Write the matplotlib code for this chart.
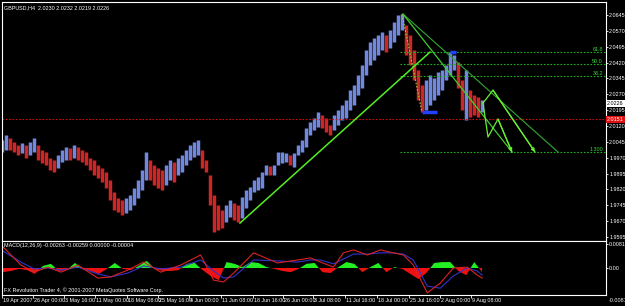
import matplotlib.pyplot as plt
import numpy as np

plt.rcParams["font.family"] = ["Liberation Sans Narrow", "Liberation Sans", "DejaVu Sans"]

# ── price data: one column per 4 H4 bars (chart scale is 1 px per bar) ──── #
highs = [
    2.0054, 2.0077, 2.0063, 2.0044, 2.0030, 2.0040, 2.0030, 2.0044, 2.0063, 2.0030,
    2.0006, 1.9997, 1.9969, 1.9959, 1.9983, 2.0006, 2.0021, 2.0016, 2.0030, 2.0021,
    2.0006, 1.9997, 1.9969, 1.9959, 1.9935, 1.9921, 1.9902, 1.9864, 1.9808, 1.9779,
    1.9770, 1.9779, 1.9794, 1.9827, 1.9864, 1.9912, 1.9997, 1.9959, 1.9935, 1.9921,
    1.9912, 1.9935, 1.9959, 1.9950, 1.9969, 1.9983, 2.0006, 2.0030, 2.0044, 2.0054,
    2.0006, 1.9959, 1.9888, 1.9794, 1.9746, 1.9723, 1.9746, 1.9770, 1.9756, 1.9746,
    1.9784, 1.9817, 1.9831, 1.9864, 1.9879, 1.9902, 1.9935, 1.9931, 1.9935, 1.9997,
    1.9997, 1.9992, 1.9983, 1.9992, 2.0030, 2.0054, 2.0110, 2.0139, 2.0158, 2.0186,
    2.0172, 2.0158, 2.0125, 2.0172, 2.0196, 2.0219, 2.0243, 2.0290, 2.0314, 2.0361,
    2.0408, 2.0479, 2.0517, 2.0536, 2.0550, 2.0565, 2.0550, 2.0574, 2.0612, 2.0645,
    2.0650, 2.0598, 2.0550, 2.0479, 2.0385, 2.0314, 2.0337, 2.0361, 2.0347, 2.0375,
    2.0385, 2.0408, 2.0470, 2.0456, 2.0423, 2.0337, 2.0385, 2.0290, 2.0267, 2.0257,
    2.0243,
]
lows = [
    1.9997, 2.0006, 2.0006, 1.9997, 1.9983, 1.9992, 1.9969, 1.9983, 1.9997, 1.9959,
    1.9945, 1.9935, 1.9912, 1.9902, 1.9921, 1.9950, 1.9959, 1.9959, 1.9969, 1.9959,
    1.9950, 1.9935, 1.9912, 1.9888, 1.9874, 1.9855, 1.9827, 1.9770, 1.9723, 1.9713,
    1.9699, 1.9708, 1.9723, 1.9746, 1.9779, 1.9817, 1.9864, 1.9864, 1.9841, 1.9827,
    1.9817, 1.9841, 1.9864, 1.9855, 1.9888, 1.9902, 1.9935, 1.9959, 1.9973, 1.9983,
    1.9921, 1.9902, 1.9746, 1.9619, 1.9628, 1.9638, 1.9666, 1.9689, 1.9675, 1.9666,
    1.9685, 1.9732, 1.9770, 1.9808, 1.9817, 1.9827, 1.9888, 1.9888, 1.9888, 1.9935,
    1.9945, 1.9950, 1.9935, 1.9926, 1.9983, 1.9997, 2.0021, 2.0077, 2.0101, 2.0115,
    2.0110, 2.0092, 2.0077, 2.0101, 2.0125, 2.0148, 2.0158, 2.0196, 2.0219, 2.0267,
    2.0300, 2.0361, 2.0408, 2.0432, 2.0456, 2.0479, 2.0470, 2.0489, 2.0517, 2.0550,
    2.0574, 2.0456, 2.0408, 2.0337, 2.0243, 2.0186, 2.0196, 2.0219, 2.0243, 2.0267,
    2.0290, 2.0337, 2.0361, 2.0385, 2.0300, 2.0196, 2.0148, 2.0163, 2.0172, 2.0163,
    2.0186,
]

# MACD histogram, one value per 8 bars
macd_hist = [
    -0.0014, -0.0010, -0.0003, -0.0007, -0.0020, 0.0007, 0.0014, -0.0010, -0.0007, 0.0017,
    -0.0003, -0.0010, -0.0020, -0.0003, 0.0017, -0.0003, -0.0007, 0.0007, 0.0024, -0.0003,
    -0.0010, -0.0010, -0.0007, 0.0014, 0.0017, -0.0007, -0.0027, -0.0041, 0.0020, 0.0014,
    0.0003, 0.0020, 0.0017, 0.0003, -0.0003, -0.0010, -0.0014, -0.0003, 0.0014, 0.0017,
    -0.0014, -0.0017, 0.0003, 0.0020, 0.0014, -0.0014, 0.0003, 0.0017, -0.0014, 0.0003,
    -0.0003, -0.0020, -0.0037, -0.0017, 0.0017, 0.0020, 0.0020, -0.0010, -0.0024, 0.0020,
    -0.0014,
]
# MACD lines, sampled at the bars below
line_bars = [0, 20, 33, 47, 60, 77, 97, 110, 127, 143, 160, 180, 200, 213, 223, 233, 253, 277,
             297, 310, 320, 333, 343, 353, 367, 380, 393, 403, 413, 427, 440, 453, 467, 477, 482]
macd_red = [0.0078, 0.0010, -0.0014, 0.0003, -0.0014, 0.0010, -0.0034, -0.0030, -0.0007, 0.0020,
            -0.0014, 0.0010, 0.0044, -0.0041, -0.0047, -0.0017, 0.0051, 0.0017, 0.0027, 0.0034,
            0.0020, 0.0003, 0.0051, 0.0061, 0.0044, 0.0061, 0.0051, 0.0044, 0.0010, -0.0084,
            -0.0051, 0.0000, 0.0003, -0.0024, -0.0034]
macd_blue = [0.0061, 0.0020, -0.0003, 0.0000, -0.0007, 0.0003, -0.0020, -0.0030, -0.0017, 0.0007,
             -0.0003, 0.0003, 0.0027, -0.0010, -0.0034, -0.0030, 0.0027, 0.0024, 0.0020, 0.0027,
             0.0027, 0.0014, 0.0030, 0.0047, 0.0047, 0.0051, 0.0051, 0.0047, 0.0027, -0.0061,
             -0.0068, -0.0027, 0.0000, -0.0010, -0.0024]

# ── chart objects (bar, price) ──────────────────────────────────────────── #
uptrend = [(240, 1.9661), (430, 2.0470)]
down_outer = [(403, 2.0650), (558, 1.9997)]
down_inner = [(403, 2.0650), (512, 1.9997)]
fib_diag = [(402, 2.0650), (422, 2.0186)]
proj_a = [(483, 2.0229), (488, 2.0068), (498, 2.0153), (512, 1.9997)]
proj_b = [(483, 2.0229), (493, 2.0290), (535, 1.9997)]
fib_levels = [2.0470, 2.0413, 2.0356, 1.9997]
fib_names = ["61.8", "50.0", "38.2", "1.300"]
red_line = 2.0151
last_price = 2.0226

price_ticks = [2.0645, 2.0570, 2.0495, 2.0420, 2.0345, 2.0270, 2.0195, 2.0120,
               2.0045, 1.9970, 1.9895, 1.9820, 1.9745, 1.9670, 1.9595]
time_ticks = [1, 32, 63, 94, 126, 157, 188, 220, 252, 282, 313, 345, 377, 409, 440, 471]
time_labels = ["19 Apr 2007", "26 Apr 00:00", "3 May 16:00", "11 May 00:00", "18 May 08:00",
               "25 May 16:00", "4 Jun 00:00", "11 Jun 08:00", "18 Jun 16:00", "26 Jun 00:00",
               "3 Jul 08:00", "11 Jul 16:00", "18 Jul 00:00", "25 Jul 16:00", "2 Aug 00:00",
               "9 Aug 08:00"]

FS = 3.9
W, H = 625, 306

fig = plt.figure(figsize=(W / 100, H / 100), dpi=100, facecolor="black")
ax = fig.add_axes([2 / W, (H - 241) / H, 604 / W, 239 / H], facecolor="black")
axm = fig.add_axes([2 / W, (H - 295) / H, 604 / W, 54 / H], facecolor="black")

for a in (ax, axm):
    a.set_xlim(2, 606)
    for s in a.spines.values():
        s.set_color("white")
        s.set_linewidth(0.8)
    a.yaxis.tick_right()
    a.tick_params(colors="white", labelsize=FS, length=1.5, pad=0.8, width=0.6)
    a.set_xticks([])

# bars
x = 2 + 4 * np.arange(len(highs))
hi = np.array(highs)
lo = np.array(lows)
mid = (hi + lo) / 2
up = np.r_[True, mid[1:] >= mid[:-1]]
cols = np.where(up, "#7088dd", "#cc2626")
ax.vlines(x, lo, hi, colors=cols, lw=2.5)
ax.set_ylim(1.9576, 2.0707)
ax.set_yticks(price_ticks)
ax.set_yticklabels([f"{v:.4f}" for v in price_ticks])

# red price line across the chart
ax.axhline(red_line, color="#d01010", lw=0.8, ls=(0, (1.5, 1.5)))

# fibonacci levels
for lvl, name in zip(fib_levels, fib_names):
    ax.plot([400, 605], [lvl, lvl], color="#22b022", lw=0.8, ls=(0, (1.5, 1.5)))
    ax.text(603, lvl, name, color="#33dd33", fontsize=FS, ha="right", va="bottom")
ax.plot(*zip(*fib_diag), color="#9acd32", lw=0.8, ls=(0, (1.5, 1.5)))
ax.plot([422, 437], [2.0186, 2.0186], color="#2040ff", lw=2.5, solid_capstyle="butt")
ax.plot([450, 456], [2.0470, 2.0470], color="#2040ff", lw=2.5, solid_capstyle="butt")

# trendlines
ax.plot(*zip(*uptrend), color="#55ee22", lw=1.1)
ax.plot(*zip(*down_outer), color="#33a833", lw=0.8)
ax.plot(*zip(*down_inner), color="#44cc33", lw=0.9)
for path in (proj_a, proj_b):
    px, py = zip(*path)
    ax.plot(px, py, color="#66ee33", lw=0.9)
    ax.annotate("", xy=path[-1], xytext=path[-2],
                arrowprops=dict(arrowstyle="-|>", color="#66ee33", lw=0.9,
                                mutation_scale=5, shrinkA=0, shrinkB=0))

# price boxes on the axis
ax.text(1.002, last_price, f"{last_price:.4f}", transform=ax.get_yaxis_transform(),
        fontsize=FS, color="black", va="center", ha="left",
        bbox=dict(boxstyle="square,pad=0.15", fc="white", ec="none"))
ax.text(1.002, red_line, f"{red_line:.4f}", transform=ax.get_yaxis_transform(),
        fontsize=FS, color="white", va="center", ha="left",
        bbox=dict(boxstyle="square,pad=0.15", fc="#e01010", ec="none"))

ax.text(0.003, 0.985, "GBPUSD,H4  2.0230 2.0232 2.0219 2.0226", transform=ax.transAxes,
        color="white", fontsize=FS, va="top", ha="left")

# MACD panel
hx = 2 + 8 * np.arange(len(macd_hist))
hv = np.array(macd_hist)
axm.fill_between(hx, 0, hv, where=hv >= 0, color="#22ee22", interpolate=True, lw=0)
axm.fill_between(hx, 0, hv, where=hv <= 0, color="#ee1111", interpolate=True, lw=0)
axm.plot(line_bars, macd_blue, color="#3333cc", lw=0.8)
axm.plot(line_bars, macd_red, color="#dd2222", lw=0.8)
axm.set_ylim(-0.0091, 0.0091)
axm.set_yticks([0.0081, 0.0])
axm.set_yticklabels(["0.00812", "0.00"])
axm.text(0.003, 0.96, "MACD(12,26,9) -0.00263 -0.00259 0.00000 -0.00004",
         transform=axm.transAxes, color="white", fontsize=FS, va="top", ha="left")
axm.text(0.003, 0.03, "FX Revolution Trader 4, © 2001-2007 MetaQuotes Software Corp.",
         transform=axm.transAxes, color="white", fontsize=FS, va="bottom", ha="left")
axm.text(1.004, -0.1, "-0.00812", transform=axm.transAxes, color="white",
         fontsize=FS, va="center", ha="left")

# time axis
axm.set_xticks(time_ticks)
axm.tick_params(axis="x", colors="white", length=2, labelbottom=False, direction="out")
for t, lab in zip(time_ticks, time_labels):
    axm.text(t + 1, -0.05, lab, transform=axm.get_xaxis_transform(), color="white",
             fontsize=FS, va="top", ha="left")

fig.savefig("out.png", dpi=100, facecolor="black")
